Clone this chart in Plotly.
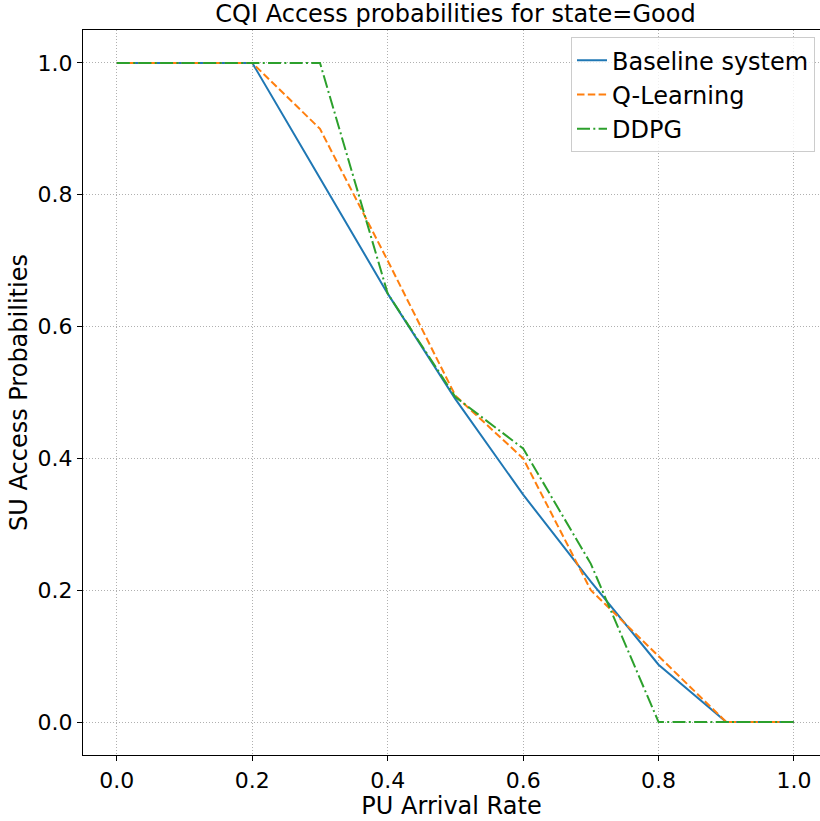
import plotly.graph_objects as go

x_rate = [0.0, 0.1, 0.2, 0.3, 0.4, 0.5, 0.6, 0.7, 0.8, 0.9, 1.0]
baseline = [1.0, 1.0, 1.0, 0.825, 0.65, 0.49, 0.345, 0.213, 0.087, 0.0, 0.0]
qlearning = [1.0, 1.0, 1.0, 0.90, 0.70, 0.495, 0.40, 0.20, 0.10, 0.0, 0.0]
ddpg = [1.0, 1.0, 1.0, 1.0, 0.65, 0.493, 0.415, 0.24, 0.0, 0.0, 0.0]
xticks = [0.0, 0.2, 0.4, 0.6, 0.8, 1.0]
yticks = [0.0, 0.2, 0.4, 0.6, 0.8, 1.0]

font = "DejaVu Sans"
fig = go.Figure()
fig.add_trace(go.Scatter(x=x_rate, y=baseline, mode="lines", name="Baseline system",
                         line=dict(color="#1f77b4", width=2)))
fig.add_trace(go.Scatter(x=x_rate, y=qlearning, mode="lines", name="Q-Learning",
                         line=dict(color="#ff7f0e", width=2, dash="7.5px,3.3px")))
fig.add_trace(go.Scatter(x=x_rate, y=ddpg, mode="lines", name="DDPG",
                         line=dict(color="#2ca02c", width=2, dash="13px,3.3px,2px,3.3px")))

grid = dict(showgrid=True, gridcolor="#b0b0b0", griddash="1px,2px", gridwidth=1)
fig.update_layout(
    width=820, height=821,
    margin=dict(l=83, r=0, t=30, b=66),
    paper_bgcolor="white", plot_bgcolor="white",
    font=dict(family=font, color="black", size=22),
    title=dict(text="CQI Access probabilities for state=Good", x=(83 + 828) / 2 / 820, xanchor="center",
               y=1 - 14 / 821, yanchor="middle", font=dict(size=24, family=font)),
    xaxis=dict(range=[-0.05, (820 - 117) / 677], tickvals=xticks, ticktext=[f"{v:.1f}" for v in xticks],
               showline=True, linecolor="black", linewidth=1.2, mirror=True,
               ticks="outside", ticklen=5, tickcolor="black", zeroline=False,
               title=dict(text="PU Arrival Rate", font=dict(size=24), standoff=0),
               tickfont=dict(size=22), **grid),
    yaxis=dict(range=[-0.05, 1.05], tickvals=yticks, ticktext=[f"{v:.1f}" for v in yticks],
               showline=True, linecolor="black", linewidth=1.2, mirror=False,
               ticks="outside", ticklen=5, tickcolor="black", zeroline=False,
               title=dict(text="SU Access Probabilities", font=dict(size=24), standoff=3),
               tickfont=dict(size=22), **grid),
    legend=dict(x=(815 - 83) / 737, y=0.99, xanchor="right", yanchor="top",
                bgcolor="rgba(255,255,255,0.8)", bordercolor="#cccccc", borderwidth=1,
                font=dict(size=24, family=font)),
    showlegend=True,
)

fig.write_html("out.html")
